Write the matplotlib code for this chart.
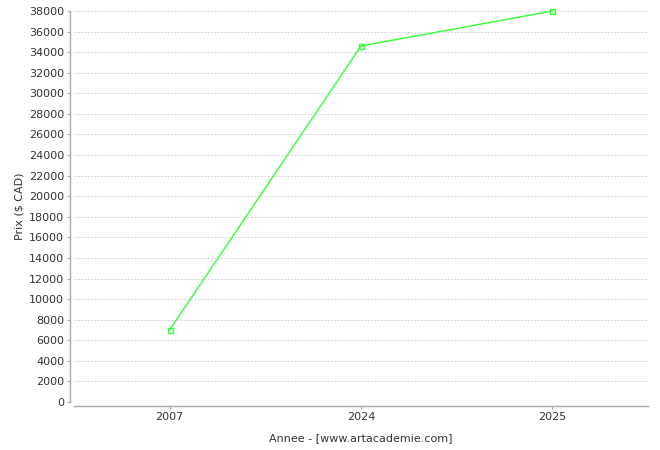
import matplotlib
matplotlib.use("Agg")
import matplotlib.pyplot as plt

years = ["2007", "2024", "2025"]
prices = [7000, 34600, 38000]
yticks = list(range(0, 38001, 2000))

fig = plt.figure(figsize=(6.6, 4.5), dpi=100)
ax = fig.add_axes([74/660, (450-402)/450, (648-74)/660, (402-11)/450])
x = list(range(len(years)))
ax.plot(x, prices, color="#33ff33", lw=1.0, marker="s", markersize=3.6,
        markerfacecolor="none", markeredgecolor="#33ff33", markeredgewidth=1.0, clip_on=False, zorder=3)
ax.set_xlim(-0.5, 2.5)
ax.set_ylim(0, 38000)
ax.set_xticks(x)
ax.set_xticklabels(years)
ax.set_yticks(yticks)
ax.set_yticklabels([str(v) for v in yticks])
ax.yaxis.grid(True, color="#c8c8c8", linestyle=(0, (2, 2)), lw=0.6)
ax.set_axisbelow(True)
for s in ["top", "right"]:
    ax.spines[s].set_visible(False)
ax.spines["left"].set_position(("outward", 3))
ax.spines["bottom"].set_position(("outward", 3))
for s in ["left", "bottom"]:
    ax.spines[s].set_color("#aaaaaa")
    ax.spines[s].set_linewidth(1.0)
ax.tick_params(axis="both", colors="#aaaaaa", labelcolor="#333333", labelsize=8, length=2, width=0.8, pad=2)
ax.set_ylabel("Prix ($ CAD)", fontsize=8, color="#333333", labelpad=3)
ax.set_xlabel("Annee - [www.artacademie.com]", fontsize=8, color="#333333", labelpad=8)
fig.savefig("out.png", dpi=100, facecolor="white")
